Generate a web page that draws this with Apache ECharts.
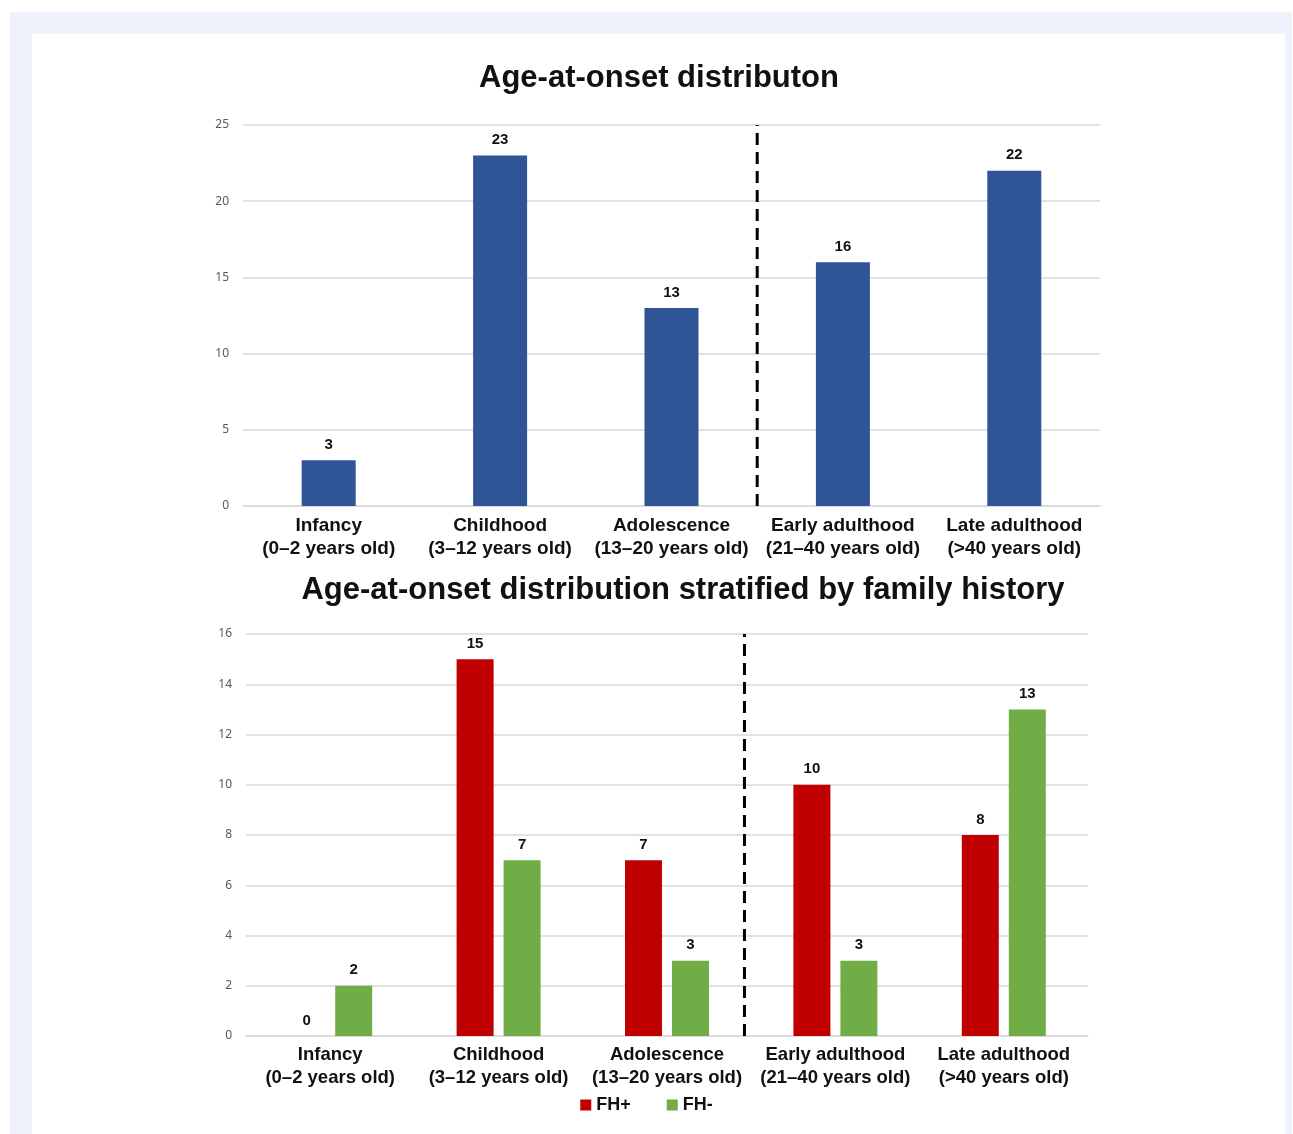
<!DOCTYPE html>
<html>
<head>
<meta charset="utf-8">
<script src="https://cdn.jsdelivr.net/npm/echarts@6/dist/echarts.min.js"></script>
<style>
  html, body { margin: 0; padding: 0; background: #ffffff; }
  #frame { position: absolute; left: 10px; top: 12px; width: 1282px; height: 1122px; background: #EEF3FB; }
  #sheet { position: absolute; left: 32px; top: 34px; width: 1253px; height: 1100px; background: #ffffff; }
  #chart { position: absolute; left: 0; top: 0; width: 1293px; height: 1134px; }
</style>
</head>
<body>
<div id="frame"></div>
<div id="sheet"></div>
<div id="chart"></div>
<script>
// Onset stages (name + age range)
const stageNames = ['Infancy', 'Childhood', 'Adolescence', 'Early adulthood', 'Late adulthood'];
const stageRanges = ['(0–2 years old)', '(3–12 years old)', '(13–20 years old)', '(21–40 years old)', '(>40 years old)'];

// Overall patient counts per stage
const totalCounts = [3, 23, 13, 16, 22];

// Counts split by family history
const fhPositive = [0, 15, 7, 10, 8];
const fhNegative = [2, 7, 3, 3, 13];

// Y-axis ranges
const topAxis = { max: 25, step: 5 };
const bottomAxis = { max: 16, step: 2 };

// Dashed divider between adolescence and adulthood (category index units)
const topDivider = 2.5;
const bottomDivider = 2.46;

const COLORS = { total: '#2F5597', pos: '#C00000', neg: '#70AD47' };
const SANS = '"Liberation Sans", Arial, sans-serif';

const categories = stageNames.map((n, i) => n + '\n' + stageRanges[i]);

function catAxis(gridIndex, size) {
  return {
    type: 'category', gridIndex, data: categories,
    axisLine: { lineStyle: { color: '#D9D9D9', width: 1.5 } },
    axisTick: { show: false },
    axisLabel: {
      interval: 0, margin: 8, color: '#111', fontFamily: SANS,
      fontWeight: 'bold', fontSize: size, lineHeight: size + 4
    }
  };
}
function valAxis(gridIndex, cfg) {
  return {
    type: 'value', gridIndex, min: 0, max: cfg.max, interval: cfg.step,
    axisLine: { show: false }, axisTick: { show: false },
    splitLine: { lineStyle: { color: '#D9D9D9', width: 1.5 } },
    axisLabel: { color: '#595959', fontSize: 12, margin: 14, fontFamily: '"Noto Sans", sans-serif' }
  };
}
function hiddenX(gridIndex) {
  return { type: 'value', gridIndex, min: -0.5, max: stageNames.length - 0.5, show: false };
}
const valueLabel = {
  show: true, position: 'top', distance: 8, color: '#111',
  fontFamily: SANS, fontWeight: 'bold', fontSize: 15
};
function divider(xIndex, yIndex, at, top) {
  return {
    type: 'line', xAxisIndex: xIndex, yAxisIndex: yIndex,
    data: [[at, 0], [at, top]], symbol: 'none', silent: true,
    lineStyle: { color: '#000', width: 3, type: [12, 7] }, z: 5
  };
}

const chart = echarts.init(document.getElementById('chart'), null, { renderer: 'canvas' });
chart.setOption({
  backgroundColor: 'transparent',
  animation: false,
  title: [
    { text: 'Age-at-onset distributon', left: 654, top: 58, textAlign: 'center',
      textStyle: { fontFamily: SANS, fontWeight: 'bold', fontSize: 31, color: '#111' } },
    { text: 'Age-at-onset distribution stratified by family history', left: 678, top: 570, textAlign: 'center',
      textStyle: { fontFamily: SANS, fontWeight: 'bold', fontSize: 31, color: '#111' } }
  ],
  legend: {
    bottom: 15, left: 'center', itemWidth: 11, itemHeight: 11, itemGap: 36,
    icon: 'rect',
    textStyle: { fontFamily: SANS, fontWeight: 'bold', fontSize: 18, color: '#111' },
    data: ['FH+', 'FH-']
  },
  grid: [
    { left: 243, right: 193, top: 125, height: 381 },
    { left: 246, right: 205, top: 634, height: 402 }
  ],
  xAxis: [catAxis(0, 19), catAxis(1, 18.5), hiddenX(0), hiddenX(1)],
  yAxis: [valAxis(0, topAxis), valAxis(1, bottomAxis)],
  series: [
    { type: 'bar', name: 'Total', xAxisIndex: 0, yAxisIndex: 0, data: totalCounts,
      barWidth: 54, itemStyle: { color: COLORS.total }, label: valueLabel },
    { type: 'bar', name: 'FH+', xAxisIndex: 1, yAxisIndex: 1, data: fhPositive,
      barWidth: 37, barGap: '27%', itemStyle: { color: COLORS.pos }, label: valueLabel },
    { type: 'bar', name: 'FH-', xAxisIndex: 1, yAxisIndex: 1, data: fhNegative,
      barWidth: 37, barGap: '27%', itemStyle: { color: COLORS.neg }, label: valueLabel },
    divider(2, 0, topDivider, topAxis.max),
    divider(3, 1, bottomDivider, bottomAxis.max)
  ]
});
</script>
</body>
</html>
